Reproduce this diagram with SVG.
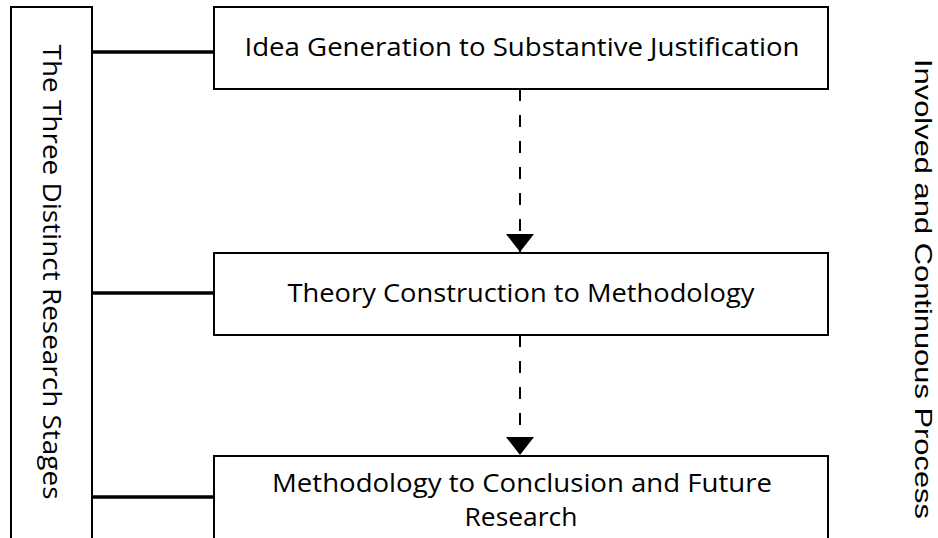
<svg xmlns="http://www.w3.org/2000/svg" width="938" height="538" viewBox="0 0 938 538">
  <style>
    .box { fill: #ffffff; stroke: #000000; stroke-width: 2; }
    .lbl { font-family: "Open Sans", "Liberation Sans", sans-serif; font-size: 26px; fill: #000000; text-anchor: middle; }
    .side { font-family: "Liberation Sans", Arial, sans-serif; font-size: 24px; fill: #000000; text-anchor: middle; }
    .tie { stroke: #000000; stroke-width: 3.5; fill: none; }
    .flow { stroke: #000000; stroke-width: 2; stroke-dasharray: 12 14; fill: none; }
  </style>
  <defs>
    <marker id="arrow" viewBox="0 0 18 28" refX="18" refY="14" markerWidth="18" markerHeight="28" markerUnits="userSpaceOnUse" orient="auto">
      <path d="M0,0 L18,14 L0,28 Z" fill="#000000"/>
    </marker>
  </defs>

  <g id="stages">
    <rect class="box" x="11" y="7" width="81" height="540"/>
    <text class="lbl" transform="translate(43,272) rotate(90)" textLength="455" lengthAdjust="spacingAndGlyphs">The Three Distinct Research Stages</text>
  </g>

  <g id="idea">
    <rect class="box" x="214" y="7" width="614" height="82"/>
    <text class="lbl" x="522" y="56" textLength="555" lengthAdjust="spacingAndGlyphs">Idea Generation to Substantive Justification</text>
  </g>

  <g id="theory">
    <rect class="box" x="214" y="253" width="614" height="82"/>
    <text class="lbl" x="521" y="302" textLength="467" lengthAdjust="spacingAndGlyphs">Theory Construction to Methodology</text>
  </g>

  <g id="method">
    <rect class="box" x="214" y="456" width="614" height="90"/>
    <text class="lbl" x="522" y="492" textLength="500" lengthAdjust="spacingAndGlyphs">Methodology to Conclusion and Future</text>
    <text class="lbl" x="521" y="526" textLength="113" lengthAdjust="spacingAndGlyphs">Research</text>
  </g>

  <g id="process">
    <text class="side" transform="translate(915,289) rotate(90)" textLength="460" lengthAdjust="spacingAndGlyphs">Involved and Continuous Process</text>
  </g>

  <g id="connectors">
    <line class="tie" x1="92" y1="52" x2="214" y2="52"/>
    <line class="tie" x1="92" y1="293" x2="214" y2="293"/>
    <line class="tie" x1="92" y1="497" x2="214" y2="497"/>
    <line class="flow" x1="520" y1="89" x2="520" y2="252" marker-end="url(#arrow)"/>
    <line class="flow" x1="520" y1="335" x2="520" y2="455" marker-end="url(#arrow)"/>
  </g>
</svg>
